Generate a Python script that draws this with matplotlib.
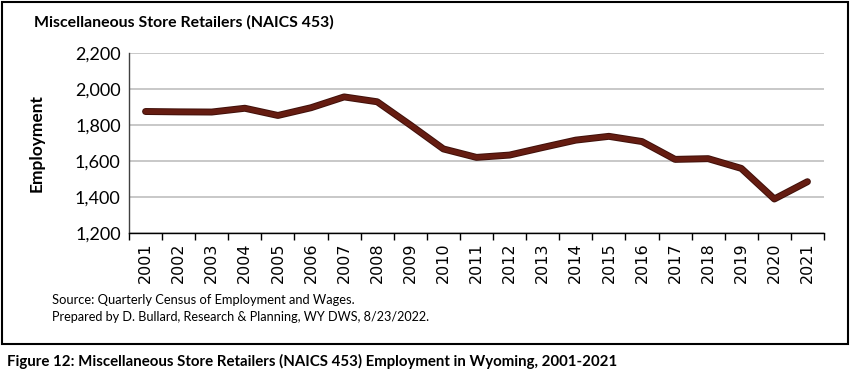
import matplotlib
matplotlib.use("Agg")
import matplotlib.pyplot as plt
import matplotlib.patheffects as pe
from matplotlib.patches import Rectangle
from matplotlib.ticker import FuncFormatter, FixedLocator

years = [str(y) for y in range(2001, 2022)]
employment = [1875, 1873, 1872, 1893, 1853, 1896, 1956, 1929, 1800, 1667,
              1620, 1633, 1675, 1716, 1737, 1708, 1609, 1613, 1559, 1389, 1485]

FONT = ["Lato", "DejaVu Sans"]
plt.rcParams['font.family'] = FONT

W, H = 850, 375
fig = plt.figure(figsize=(W / 100, H / 100), dpi=100)

def fx(px):
    return px / W

def fy(py):
    return 1 - py / H

# outer frame
fig.patches.append(Rectangle((fx(2), fy(344)), fx(846), (342) / H, transform=fig.transFigure,
                             fill=False, edgecolor="black", linewidth=1.5))

ax = fig.add_axes([fx(129), fy(233), fx(824 - 129), (233 - 53) / H])
x = list(range(len(years)))
ax.plot(x, employment, color="#651c11", linewidth=3.6, solid_joinstyle="round",
        solid_capstyle="round", zorder=3,
        path_effects=[pe.Stroke(linewidth=5.0, foreground="#40100a"), pe.Normal()])

ax.set_xlim(-0.5, len(years) - 0.5)
ax.set_ylim(1200, 2200)
ax.set_yticks([1200, 1400, 1600, 1800, 2000, 2200])
ax.yaxis.set_major_formatter(FuncFormatter(lambda v, p: f"{int(v):,}"))
ax.grid(axis="y", color="#bfbfbf", linewidth=1.2)
ax.set_axisbelow(True)

ax.set_xticks(x)
ax.set_xticklabels(years, rotation=90, fontsize=11.5, family="DejaVu Sans")
ax.tick_params(axis="x", which="major", length=0, pad=7)
ax.xaxis.set_minor_locator(FixedLocator([i + 0.5 for i in range(-1, len(years))]))
ax.tick_params(axis="x", which="minor", length=5, width=1, color="black", direction="out")
ax.tick_params(axis="y", length=0, labelsize=13, pad=6)
for lbl in ax.get_yticklabels():
    lbl.set_color("black")

for s in ["top", "right"]:
    ax.spines[s].set_visible(False)
ax.spines["left"].set_color("#404040")
ax.spines["bottom"].set_color("black")
ax.spines["left"].set_linewidth(1)
ax.spines["bottom"].set_linewidth(1)

fig.text(fx(37), fy(143), "Employment", rotation=90, fontsize=12.5, fontweight="bold",
         ha="center", va="center")

fig.text(fx(34), fy(22), "Miscellaneous Store Retailers (NAICS 453)", fontsize=11.4,
         fontweight="bold", ha="left", va="center")

fig.text(fx(52), fy(300), "Source: Quarterly Census of Employment and Wages.", fontsize=9.3,
         ha="left", va="center")
fig.text(fx(52), fy(317), "Prepared by D. Bullard, Research & Planning, WY DWS, 8/23/2022.",
         fontsize=9.1, ha="left", va="center")

fig.text(fx(7), fy(361), "Figure 12: Miscellaneous Store Retailers (NAICS 453) Employment in Wyoming, 2001-2021",
         fontsize=10.8, fontweight="bold", ha="left", va="center")

fig.savefig("out.png", dpi=100)
